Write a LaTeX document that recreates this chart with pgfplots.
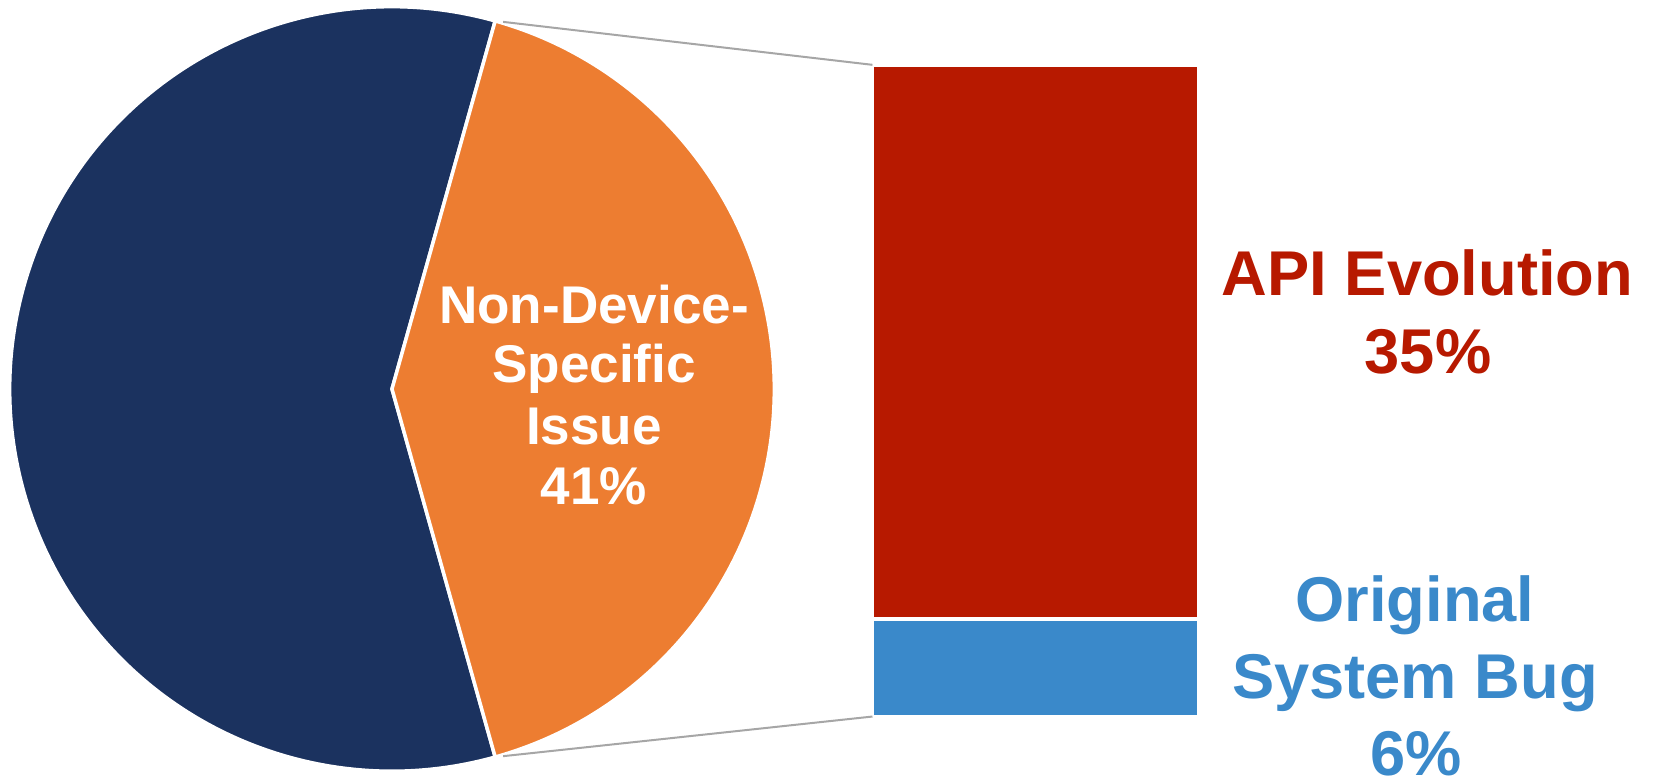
\documentclass[border=0pt]{standalone}
\usepackage{pgfplots}
\pgfplotsset{compat=1.18}
\usepackage{fontspec}
\setmainfont{Liberation Sans}
\definecolor{navy}{HTML}{1B325F}
\definecolor{orng}{HTML}{ED7D31}
\definecolor{redb}{HTML}{B71900}
\definecolor{blueb}{HTML}{3A89CA}
\definecolor{conn}{HTML}{A6A6A6}
% pie values (percent)
\def\valOther{58.7}
\def\valNonDev{41.3}
% bar values (percent)
\def\valBug{6.2}
\def\valAPI{35.1}
\begin{document}
\begin{tikzpicture}
\path[use as bounding box] (0,0) rectangle (16.53,7.77);
\clip (0,0) rectangle (16.53,7.77);
\pgfmathsetmacro{\half}{\valNonDev*3.6/2}
\pgfmathsetmacro{\otherend}{360-\half}
\pgfmathsetmacro{\bartot}{\valBug+\valAPI}
\begin{axis}[name=pie, at={(3.92cm,3.88cm)}, anchor=center, scale only axis,
  width=7.645cm, height=7.645cm, xmin=-1, xmax=1, ymin=-1, ymax=1,
  hide axis, clip=false]
\filldraw[fill=navy, draw=white, line width=0.35mm] (axis cs:0,0) -- (axis cs:{cos(\half)},{sin(\half)})
  arc[start angle=\half, end angle=\otherend, radius=3.8225cm] -- cycle;
\filldraw[fill=orng, draw=white, line width=0.35mm] (axis cs:0,0) -- (axis cs:{cos(\half)},{-sin(\half)})
  arc[start angle=-\half, end angle=\half, radius=3.8225cm] -- cycle;
\coordinate (ptop) at (axis cs:{cos(\half)},{sin(\half)});
\coordinate (pbot) at (axis cs:{cos(\half)},{-sin(\half)});
\end{axis}
\begin{axis}[name=bar, at={(8.7245cm,0.6045cm)}, anchor=south west, scale only axis,
  width=3.264cm, height=6.517cm, xmin=-0.5, xmax=0.5, ymin=0, ymax=\bartot,
  hide axis, clip=false, ybar stacked, bar width=1]
\addplot[fill=blueb, draw=white, line width=0.37mm] coordinates {(0,6.2)};
\addplot[fill=redb, draw=white, line width=0.37mm] coordinates {(0,35.1)};
\coordinate (btop) at (axis cs:-0.5,\bartot);
\coordinate (bbot) at (axis cs:-0.5,0);
\end{axis}
\draw[conn, line width=0.2mm, shorten <=0.8mm] (ptop) -- (btop);
\draw[conn, line width=0.2mm, shorten <=0.8mm] (pbot) -- (bbot);
\begin{scope}[every node/.style={anchor=base, inner sep=0pt, font=\fontsize{15.1pt}{17pt}\selectfont\bfseries, text=white}]
\node at (5.94,4.537) {Non-Device-};
\node at (5.94,3.943) {Specific};
\node at (5.94,3.320) {Issue};
\node at (5.94,2.720) {41\%};
\end{scope}
\begin{scope}[every node/.style={anchor=base, inner sep=0pt, font=\fontsize{18pt}{22pt}\selectfont\bfseries}]
\node[text=redb] at (14.275,4.810) {API Evolution};
\node[text=redb] at (14.280,4.037) {35\%};
\node[text=blueb] at (14.150,1.550) {Original};
\node[text=blueb] at (14.150,0.780) {System Bug};
\node[text=blueb] at (14.160,0.017) {6\%};
\end{scope}
\end{tikzpicture}
\end{document}
